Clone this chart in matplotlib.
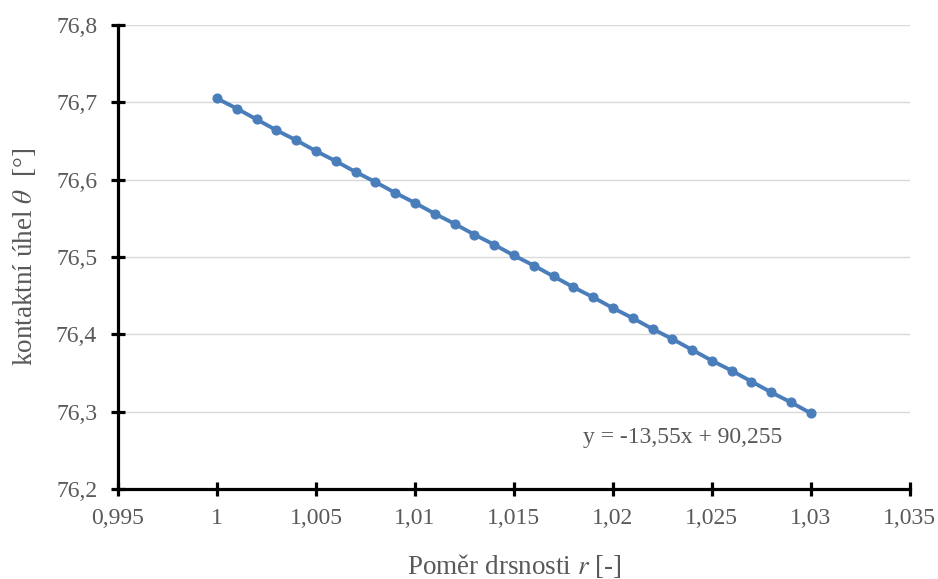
import matplotlib.pyplot as plt
import numpy as np

# Pomer drsnosti r vs. kontaktni uhel
r = [1.000, 1.001, 1.002, 1.003, 1.004, 1.005, 1.006, 1.007, 1.008, 1.009,
     1.010, 1.011, 1.012, 1.013, 1.014, 1.015, 1.016, 1.017, 1.018, 1.019,
     1.020, 1.021, 1.022, 1.023, 1.024, 1.025, 1.026, 1.027, 1.028, 1.029, 1.030]
theta = [76.705, 76.692, 76.678, 76.664, 76.651, 76.637, 76.624, 76.610, 76.597, 76.583,
         76.570, 76.556, 76.543, 76.529, 76.516, 76.502, 76.489, 76.475, 76.461, 76.448,
         76.434, 76.421, 76.407, 76.394, 76.380, 76.366, 76.353, 76.339, 76.325, 76.312, 76.298]
xticks = [0.995, 1.0, 1.005, 1.01, 1.015, 1.02, 1.025, 1.03, 1.035]
yticks = [76.2, 76.3, 76.4, 76.5, 76.6, 76.7, 76.8]
trend_label = "y = -13,55x + 90,255"

plt.rcParams['font.family'] = ['Liberation Serif', 'DejaVu Serif']
plt.rcParams['mathtext.fontset'] = 'stix'
grey = '#595959'
fs = 17
fs_lab = 19.5

fig = plt.figure(figsize=(9.38, 5.79), dpi=100)
ax = fig.add_axes([0.1258, 0.1554, 0.8442, 0.8014])

ax.plot(r, theta, color='#4A7EBB', linewidth=2.8, marker='o', markersize=6.3, zorder=3)

ax.set_xlim(0.995, 1.035)
ax.set_ylim(76.2, 76.8)
ax.set_xticks(xticks)
ax.set_yticks(yticks)

def fmt(v):
    s = ('%.3f' % v).rstrip('0').rstrip('.')
    return s.replace('.', ',')

ax.set_xticklabels([fmt(v) for v in xticks])
ax.set_yticklabels([fmt(v) for v in yticks])

ax.grid(axis='y', color='#d9d9d9', linewidth=1.0)
ax.set_axisbelow(True)
for side in ['top', 'right']:
    ax.spines[side].set_visible(False)
for side in ['left', 'bottom']:
    ax.spines[side].set_linewidth(2.3)
    ax.spines[side].set_color('black')
ax.tick_params(direction='inout', length=10, width=2.3, color='black',
               labelsize=fs, labelcolor=grey)
ax.tick_params(axis='x', pad=9)
ax.tick_params(axis='y', pad=10)

ax.text(1.0235, 76.266, trend_label, ha='center', va='center', fontsize=fs, color=grey)

ax.set_xlabel(r'Poměr drsnosti $\mathit{r}$ [-]', fontsize=fs_lab, color=grey, labelpad=16)
ax.set_ylabel(r'kontaktní úhel $\mathit{\theta}$  [°]', fontsize=fs_lab, color=grey, labelpad=13)

fig.savefig('out.png', dpi=100)
